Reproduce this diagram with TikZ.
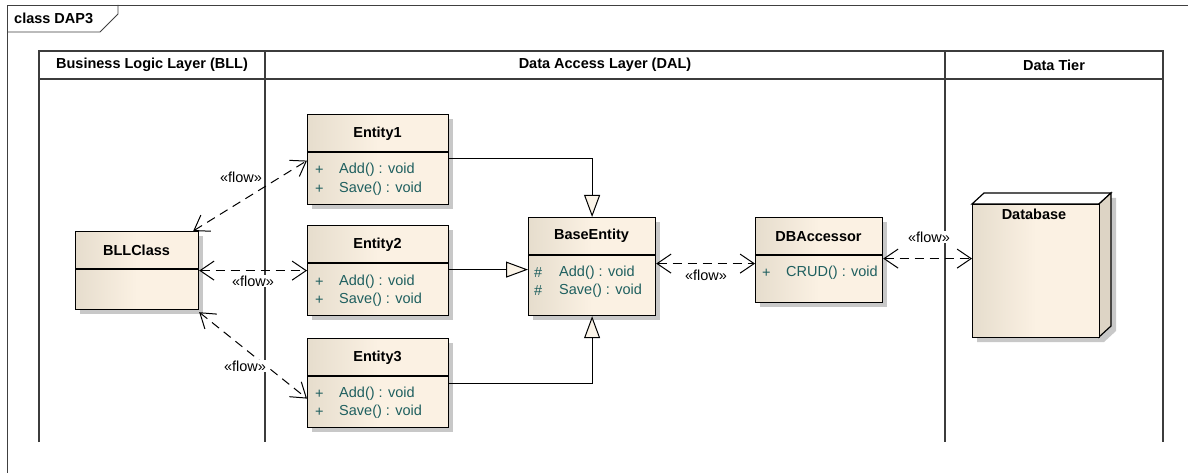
\documentclass[tikz,border=0pt]{standalone}
\usepackage{fontspec}
\setmainfont{Liberation Sans}
\usetikzlibrary{arrows.meta,shadows,calc}
\definecolor{fillL}{HTML}{E6DDCD}
\definecolor{fillR}{HTML}{FBF1E3}
\definecolor{attr}{RGB}{30,95,95}
\definecolor{lanec}{HTML}{3C3C3C}
\definecolor{shadowc}{HTML}{C8C8C8}
\definecolor{dbside}{HTML}{DDD4C5}
\definecolor{tri}{HTML}{FBF4E8}
\begin{document}
\begin{tikzpicture}[x=1pt,y=-1pt,
  txt/.style={font=\fontsize{14.5}{16}\selectfont, inner sep=0pt},
  nametext/.style={txt, font=\fontsize{14.5}{16}\selectfont\bfseries},
  membertext/.style={txt, text=attr, anchor=west},
  classbox/.style={draw=black, line width=1.2pt, left color=fillL, right color=fillR, middle color=fillR,
    drop shadow={shadow xshift=4pt, shadow yshift=-4pt, fill=shadowc, opacity=1},
    inner sep=0pt, anchor=north west},
  divider/.style={draw=black, line width=1.2pt},
  laneline/.style={draw=lanec, line width=1.8pt},
  frameline/.style={draw=black!75, line width=0.9pt},
  gen/.style={draw=black, line width=1pt, -{Triangle[width=16pt,length=22pt,fill=tri,line width=1pt]}},
  flow/.style={draw=black, line width=1pt, dash pattern=on 9pt off 6pt,
    {Straight Barb[length=14pt,width=19pt,line width=1pt]}-{Straight Barb[length=14pt,width=19pt,line width=1pt]}},
  flowlabel/.style={txt, fill=white, inner sep=1pt}
]
\useasboundingbox (0,0) rectangle (1188,473);
\fill[white] (0,0) rectangle (1188,473);

% frame
\draw[frameline] (7,473) -- (7,5) -- (1188,5);
\draw[frameline] (7,32) -- (100,32) -- (118,14) -- (118,5);
\node[nametext, anchor=west] (frametitle) at (14,18) {class DAP3};

% swimlanes
\draw[laneline] (39,442) -- (39,51) -- (1163,51) -- (1163,442);
\draw[laneline] (39,79) -- (1163,79);
\draw[laneline] (265,51) -- (265,442);
\draw[laneline] (945,51) -- (945,442);
\node[nametext] (lane1) at (152,65) {Business Logic Layer (BLL)};
\node[nametext] (lane2) at (605,65) {Data Access Layer (DAL)};
\node[nametext] (lane3) at (1054,65) {Data Tier};

% BLLClass
\node[classbox, minimum width=123pt, minimum height=78pt] (bll) at (75,231) {};
\draw[divider] (bll.west |- 0,269) -- (bll.east |- 0,269);
\node[nametext] (blln) at (136.5,250) {BLLClass};

% Entity1
\node[classbox, minimum width=141pt, minimum height=90pt] (e1) at (307,114) {};
\draw[divider] (e1.west |- 0,152) -- (e1.east |- 0,152);
\node[nametext] (e1n) at (377.5,134) {Entity1};
\node[membertext] (e1v1) at (315,170) {+};
\node[membertext] (e1a) at (339,170) {Add() : void};
\node[membertext] (e1v2) at (315,189) {+};
\node[membertext] (e1s) at (339,189) {Save() : void};

% Entity2
\node[classbox, minimum width=141pt, minimum height=90pt] (e2) at (307,225) {};
\draw[divider] (e2.west |- 0,263) -- (e2.east |- 0,263);
\node[nametext] (e2n) at (377.5,245) {Entity2};
\node[membertext] (e2v1) at (315,282) {+};
\node[membertext] (e2a) at (339,282) {Add() : void};
\node[membertext] (e2v2) at (315,300) {+};
\node[membertext] (e2s) at (339,300) {Save() : void};

% Entity3
\node[classbox, minimum width=141pt, minimum height=89pt] (e3) at (307,338) {};
\draw[divider] (e3.west |- 0,376) -- (e3.east |- 0,376);
\node[nametext] (e3n) at (377.5,358) {Entity3};
\node[membertext] (e3v1) at (315,394) {+};
\node[membertext] (e3a) at (339,394) {Add() : void};
\node[membertext] (e3v2) at (315,412) {+};
\node[membertext] (e3s) at (339,412) {Save() : void};

% BaseEntity
\node[classbox, minimum width=127pt, minimum height=98pt] (be) at (528,217) {};
\draw[divider] (be.west |- 0,255) -- (be.east |- 0,255);
\node[nametext] (ben) at (591.5,236) {BaseEntity};
\node[membertext] (bev1) at (534,273) {\#};
\node[membertext] (bea) at (559,273) {Add() : void};
\node[membertext] (bev2) at (534,291) {\#};
\node[membertext] (bes) at (559,291) {Save() : void};

% DBAccessor
\node[classbox, minimum width=127pt, minimum height=85pt] (dba) at (755,217) {};
\draw[divider] (dba.west |- 0,255) -- (dba.east |- 0,255);
\node[nametext] (dban) at (818.5,237) {DBAccessor};
\node[membertext] (dbav) at (762,273) {+};
\node[membertext] (dbaa) at (786,273) {CRUD() : void};

% Database (3D node)
\fill[shadowc] (989,198) -- (1116,198) -- (1116,331) -- (1104,342) -- (977,342) -- (977,209) -- cycle;
\filldraw[draw=black, line width=1.2pt, fill=white] (972,204) -- (984,193) -- (1111,193) -- (1099,204) -- cycle;
\filldraw[draw=black, line width=1.2pt, fill=dbside] (1099,204) -- (1111,193) -- (1111,326) -- (1099,337) -- cycle;
\node[draw=black, line width=1.2pt, left color=fillL, right color=fillR, middle color=fillR, inner sep=0pt,
  anchor=north west, minimum width=127pt, minimum height=133pt] (db) at (972,204) {};
\node[nametext] (dbn) at (1034,214) {Database};

% generalizations
\draw[gen] ([yshift=1pt]e1.east) -| (be.north);
\draw[gen] ([yshift=1pt]e2.east) -- ([yshift=1pt]e2.east -| be.west);
\draw[gen] (e3.east) -| (be.south);

% flows
\draw[flow] ([xshift=-6pt]bll.north east) -- ([yshift=-1pt]e1.west);
\draw[flow] (bll.east) -- (e2.west);
\draw[flow] ([yshift=-2pt]bll.south east) -- ([yshift=-15.5pt]e3.west);
\draw[flow] ([yshift=3pt]be.east) -- ([yshift=-3.5pt]dba.west);
\draw[flow] ([yshift=1.5pt]dba.east) -- ([yshift=12.5pt]db.west);

\node[flowlabel] (fl1) at (241,177) {«flow»};
\node[flowlabel] (fl2) at (253,281) {«flow»};
\node[flowlabel] (fl3) at (245,366) {«flow»};
\node[flowlabel] (fl4) at (706,275) {«flow»};
\node[flowlabel] (fl5) at (929,237) {«flow»};
\end{tikzpicture}
\end{document}
